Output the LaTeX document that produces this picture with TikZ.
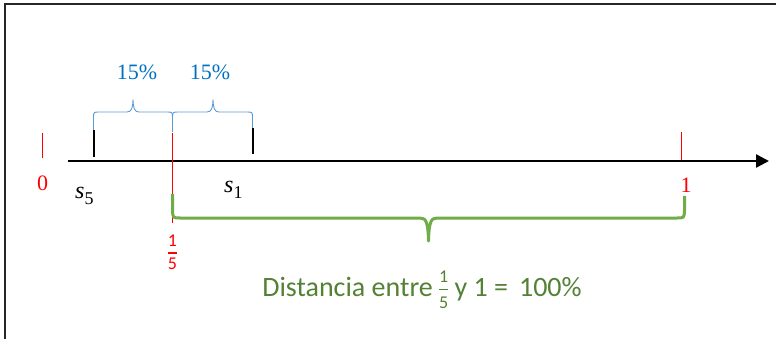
\documentclass[tikz,border=0pt]{standalone}
\usepackage{fontspec}
\setmainfont{Liberation Serif}
\newfontfamily\carlito{Carlito}
\usetikzlibrary{arrows.meta}
\definecolor{bluetxt}{HTML}{0070C0}
\definecolor{bluebr}{HTML}{5B9BD5}
\definecolor{greenbr}{HTML}{70AD47}
\definecolor{greentxt}{HTML}{538135}
\definecolor{redc}{HTML}{FF0000}
\newcommand{\fsz}[1]{\fontsize{#1}{#1}\selectfont}
\newcommand{\stackfrac}[6]{\ensuremath{\vcenter{\hbox{\fsz{#3}\vbox{\offinterlineskip\halign{\hfil##\hfil\cr #1\cr\noalign{\kern#4}\rule{0.5em}{#6}\cr\noalign{\kern#5}#2\cr}}}}}}
\begin{document}
\begin{tikzpicture}[x=1pt,y=-1pt,
  frameline/.style={draw=black!85, line width=1.6pt},
  axisline/.style={draw=black, line width=2.4pt},
  blacktick/.style={draw=black, line width=2pt},
  redtick/.style={draw=redc, line width=1.4pt},
  bluebrace/.style={draw=bluebr, line width=0.9pt},
  greenbrace/.style={draw=greenbr, line width=3pt, line join=round},
  pct/.style={text=bluetxt, font=\fsz{22}, inner sep=0pt},
  redlab/.style={text=redc, font=\fsz{22}, inner sep=0pt},
  slab/.style={font=\fsz{24}, inner sep=0pt, anchor=base west}]
\useasboundingbox (0,0) rectangle (776,339);
% frame
\coordinate (fa) at (5,339);
\coordinate (fb) at (5,4);
\coordinate (fc) at (776,4);
\draw[frameline] (fa) -- (fb) -- (fc);
% axis
\coordinate (ax0) at (68,161);
\coordinate (ax1) at (769,161);
\draw[axisline, -{Triangle[length=13pt,width=13pt]}] (ax0) -- (ax1);
% red ticks
\coordinate (r0a) at (42.5,133); \coordinate (r0b) at (42.5,158);
\draw[redtick] (r0a) -- (r0b);
\coordinate (r1a) at (681.5,132); \coordinate (r1b) at (681.5,160);
\draw[redtick] (r1a) -- (r1b);
\coordinate (rfa) at (172.5,133); \coordinate (rfb) at (172.5,223);
\draw[redtick] (rfa) -- (rfb);
% black ticks
\coordinate (b5a) at (93.5,130); \coordinate (b5b) at (93.5,157);
\draw[blacktick] (b5a) -- (b5b);
\coordinate (b1a) at (252.5,128); \coordinate (b1b) at (252.5,154);
\draw[blacktick] (b1a) -- (b1b);
% labels
\node[redlab] (l0) at (42.5,183) {0};
\node[redlab] (l1) at (686,185.5) {1};
\node[slab] (s5) at (75,199) {\textit{s}\raisebox{-0.22em}{\fsz{18}5}};
\node[slab] (s1) at (224,193) {\textit{s}\raisebox{-0.22em}{\fsz{18}1}};
\node[text=redc, inner sep=0pt, font=\carlito] (fr) at (172.5,252) {\stackfrac{1}{5}{18}{6pt}{3pt}{2pt}};
% blue braces
\draw[bluebrace] (93.5,130) -- (93.5,118) .. controls (93.5,112) .. (99.5,112) -- (127,112)
  .. controls (131.5,112) and (132.8,108) .. (133,99.5)
  .. controls (133.2,108) and (134.5,112) .. (139,112) -- (166.5,112)
  .. controls (172.5,112) .. (172.5,118) -- (172.5,132);
\draw[bluebrace] (172.5,132) -- (172.5,118) .. controls (172.5,112) .. (178.5,112) -- (207,112)
  .. controls (211.5,112) and (212.8,108) .. (213,99.5)
  .. controls (213.2,108) and (214.5,112) .. (219,112) -- (246.5,112)
  .. controls (252.5,112) .. (252.5,118) -- (252.5,128);
\node[pct] (p1) at (137,72.5) {15\%};
\node[pct] (p2) at (210,72.5) {15\%};
% green brace
\draw[greenbrace] (172.5,194) -- (172.5,211) .. controls (173,218) .. (180,218) -- (420,218)
  .. controls (426,218) and (428,222) .. (428.5,241)
  .. controls (429,222) and (431,218) .. (437,218) -- (677,218)
  .. controls (684,218) .. (684.5,211) -- (684.5,196);
\node[text=greentxt, font=\carlito\fsz{28}, inner sep=0pt, anchor=base] (gt) at (422,296)
  {Distancia entre \stackfrac{1}{5}{18}{6pt}{6pt}{1.5pt} y 1 =\, 100\%};
\end{tikzpicture}
\end{document}
